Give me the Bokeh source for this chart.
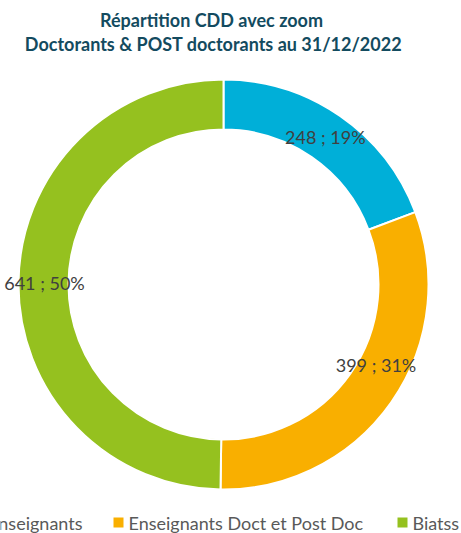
import math
from bokeh.plotting import figure
from bokeh.models import ColumnDataSource, Range1d
from bokeh.core.properties import value
from bokeh.embed import file_html
from bokeh.resources import INLINE

# ---- data ----
categories = ["Enseignants", "Enseignants Doct et Post Doc", "Biatss"]
counts = [248, 399, 641]
colors = ["#00AFD8", "#F9AF00", "#95C11F"]
title_lines = ["Répartition CDD avec zoom", "Doctorants & POST doctorants au 31/12/2022"]

# ---- layout (picture pixel coordinates, origin top-left) ----
W, H = 461, 533
cx_page, cy_page = 223, 284
r_out, r_in = 205, 155
label_r = 179
label_nudge = [(0, 0), (6, -22), (0, 0)]  # px adjustments


def X(px):
    return px


def Y(py):
    return H - py


p = figure(width=W, height=H, output_backend="svg", toolbar_location=None,
           x_range=Range1d(0, W), y_range=Range1d(0, H),
           min_border=0, outline_line_color=None)
p.axis.visible = False
p.grid.visible = False
p.background_fill_color = "white"
p.border_fill_color = "white"

total = sum(counts)
starts, ends, mids = [], [], []
acc = 0.0
for v in counts:
    a0 = math.pi / 2 - acc / total * 2 * math.pi
    acc += v
    a1 = math.pi / 2 - acc / total * 2 * math.pi
    starts.append(a0)
    ends.append(a1)
    mids.append((a0 + a1) / 2)

src = ColumnDataSource(dict(x=[X(cx_page)] * 3, y=[Y(cy_page)] * 3,
                            start=starts, end=ends, color=colors))
p.annular_wedge(x="x", y="y", inner_radius=r_in, outer_radius=r_out,
                start_angle="start", end_angle="end", direction="clock",
                fill_color="color", line_color="white", line_width=2, source=src)

labels = [f"{v} ; {round(v / total * 100)}%" for v in counts]
lx, ly = [], []
for m, (dx, dy) in zip(mids, label_nudge):
    px = cx_page + label_r * math.cos(m) + dx
    py = cy_page - label_r * math.sin(m) + dy
    lx.append(X(px))
    ly.append(Y(py))
p.text(x=lx, y=ly, text=labels, text_font=value("Lato"), text_font_size="18px",
       text_color="#404040", text_align="center", text_baseline="middle")

# title
p.text(x=[X(211), X(213)], y=[Y(19), Y(43)], text=title_lines,
       text_font=value("Lato"), text_font_style="bold", text_font_size="18px",
       text_color="#134B5F", text_align="center", text_baseline="middle")

# legend
leg_y = 522
sq = 10
# first item: right end of its text at x=82 (partly outside the picture)
p.rect(x=[X(-22)], y=[Y(leg_y)], width=sq, height=sq,
       fill_color=colors[0], line_color=None)
p.text(x=[X(82)], y=[Y(leg_y)], text=[categories[0]], text_font=value("Lato"),
       text_font_size="18px", text_color="#595959",
       text_align="right", text_baseline="middle")
for i, tx in ((1, 128), (2, 412)):
    p.rect(x=[X(tx - 10)], y=[Y(leg_y)], width=sq, height=sq,
           fill_color=colors[i], line_color=None)
    p.text(x=[X(tx)], y=[Y(leg_y)], text=[categories[i]], text_font=value("Lato"),
           text_font_size="18px", text_color="#595959",
           text_align="left", text_baseline="middle")

open("out.html", "w").write(file_html(p, INLINE))
